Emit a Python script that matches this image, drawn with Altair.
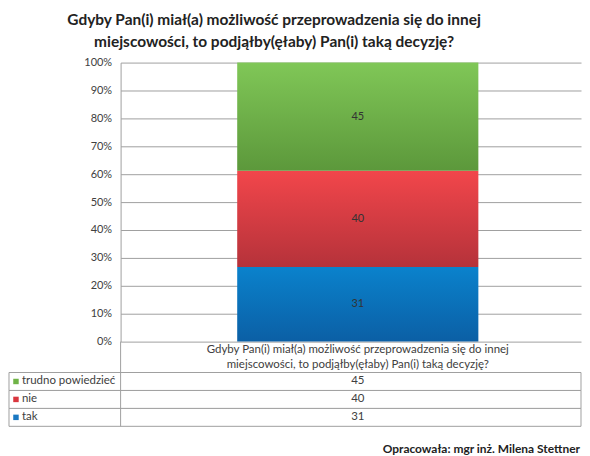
import altair as alt
import pandas as pd

# ---- data ----
title_lines = ["Gdyby Pan(i) miał(a) możliwość przeprowadzenia się do innej",
               "miejscowości, to podjąłby(ęłaby) Pan(i) taką decyzję?"]
category = ("Gdyby Pan(i) miał(a) możliwość przeprowadzenia się do innej\n"
            "miejscowości, to podjąłby(ęłaby) Pan(i) taką decyzję?")
series = ["tak", "nie", "trudno powiedzieć"]
values = [31, 40, 45]
stack_order = [1, 2, 3]
table_order = ["trudno powiedzieć", "nie", "tak"]
footer = "Opracowała: mgr inż. Milena Stettner"

# ---- styles ----
W, H = 462, 280
XOFF = 7
FONT = "Lato"
grid_col = "#a0a0a0"
text_col = "#404040"
swatch = ["#1a78c2", "#d9363e", "#6fb346"]
grad = {
    "tak": ("#0a82cc", "#0b5fa5"),
    "nie": ("#f2464b", "#b5323a"),
    "trudno powiedzieć": ("#80c757", "#5c983b"),
}

df = pd.DataFrame({
    "category": [category] * len(series),
    "series": series,
    "value": values,
    "order": stack_order,
})

x_enc = alt.X(
    "category:N",
    axis=alt.Axis(
        title=None, domain=False, ticks=False, labelAngle=0,
        labelExpr="split(datum.label, '\\n')", labelLimit=0,
        labelFontSize=11.5, labelLineHeight=14.5, labelColor=text_col,
        labelPadding=2, labelFont=FONT, labelOffset=XOFF,
    ),
)
y_enc_kw = dict(
    scale=alt.Scale(domain=[0, 1], nice=False),
    axis=alt.Axis(
        title=None, format="%", values=[i / 10 for i in range(11)],
        grid=True, gridColor=grid_col, gridWidth=1, ticks=False,
        domain=True, domainColor=grid_col, labelPadding=9,
        labelFontSize=11, labelColor=text_col, labelFont=FONT,
    ),
)

base = (
    alt.Chart(df)
    .transform_joinaggregate(total="sum(value)")
    .transform_calculate(pct="datum.value / datum.total")
    .transform_stack(stack="pct", groupby=["category"], as_=["y0", "y1"],
                     sort=[alt.SortField("order")])
    .transform_calculate(ymid="(datum.y0 + datum.y1) / 2")
)

bar_layers = []
for s in series:
    top, bottom = grad[s]
    g = alt.LinearGradient(
        gradient="linear",
        stops=[alt.GradientStop(color=top, offset=0),
               alt.GradientStop(color=bottom, offset=1)],
        x1=0, x2=0, y1=0, y2=1,
    )
    bar_layers.append(
        base.transform_filter(alt.datum.series == s)
        .mark_bar(size=242, color=g, xOffset=XOFF)
        .encode(x=x_enc, y=alt.Y("y0:Q", **y_enc_kw), y2="y1:Q")
    )

bar_text = base.mark_text(fontSize=11, color="#333333", font=FONT,
                          xOffset=XOFF).encode(
    x=x_enc, y=alt.Y("ymid:Q", **y_enc_kw), text="value:Q"
)

main = alt.layer(*bar_layers, bar_text)

# ---- data table under the chart ----
ty = alt.Y("series:N", sort=table_order, axis=None,
           scale=alt.Scale(range=[311, 365], paddingInner=0, paddingOuter=0))
tbase = alt.Chart(df)
t_rect = tbase.mark_rect(fill="white", stroke=grid_col, strokeWidth=1).encode(
    y=ty, x=alt.value(-112), x2=alt.value(W)
)
t_sw = tbase.mark_square(size=30, opacity=1).encode(
    y=ty, x=alt.value(-105),
    color=alt.Color("series:N", scale=alt.Scale(domain=series, range=swatch),
                    legend=None),
)
t_lab = tbase.mark_text(align="left", fontSize=11.5, color=text_col, font=FONT).encode(
    y=ty, x=alt.value(-99), text="series:N"
)
t_val = tbase.mark_text(fontSize=11.5, color=text_col, font=FONT,
                        xOffset=XOFF).encode(
    y=ty, x=x_enc, text="value:Q"
)
table = alt.layer(t_rect, t_sw, t_lab, t_val)

one = pd.DataFrame({"t": [footer]})
vline = alt.Chart(one).mark_rule(color=grid_col).encode(
    x=alt.value(0), y=alt.value(280), y2=alt.value(365)
)
foot = alt.Chart(one).mark_text(
    align="right", baseline="middle", fontSize=12, fontWeight="bold",
    color="#222222", font=FONT
).encode(x=alt.value(W - 1), y=alt.value(388), text="t:N")

chart = (
    alt.layer(main, table, vline, foot)
    .resolve_scale(y="independent")
    .properties(
        width=W, height=H,
        padding={"left": 0, "right": 0, "top": 4, "bottom": 0},
        title=alt.TitleParams(
            text=title_lines, anchor="middle", frame="group", dx=-77,
            fontSize=15.5, fontWeight="bold", font=FONT, color="#222222",
            lineHeight=22, offset=6,
        ),
    )
    .configure_view(stroke=None)
)

chart.save("out.html", embed_options={"renderer": "svg", "actions": False})
